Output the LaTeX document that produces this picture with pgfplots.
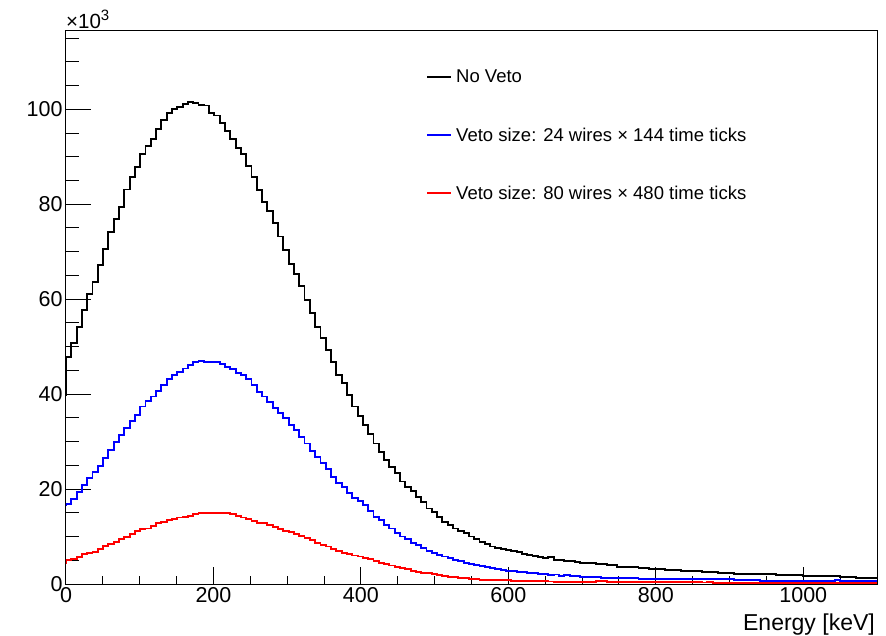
\documentclass[border=0pt]{standalone}
\usepackage{fontspec}
\setmainfont{Liberation Sans}
\usepackage{pgfplots}
\usepackage{pgfplotstable}
\pgfplotsset{compat=1.18}

% bin contents in units of 10^3, bin width ~7.19 keV; first row = edge of the bin below 0,
% last row repeats the last bin so the step reaches the right edge
\pgfplotstableread{
b u r
39.5 16.4 4.2
47.9 16.85 5.0
50.8 18.0 5.3
54.2 19.3 5.76
57.7 20.9 6.25
61.0 22.3 6.46
63.6 23.5 6.81
67.2 24.9 7.30
70.6 26.5 8.00
74.2 28.2 8.35
76.8 30.0 8.92
79.5 31.4 9.41
83.1 32.8 9.97
85.7 34.4 10.5
87.8 35.6 11.1
90.5 37.4 11.5
92.3 38.6 11.7
93.7 39.5 12.2
95.9 40.7 12.8
97.7 41.9 13.1
99.2 43.1 13.5
100.0 44.0 13.7
100.5 44.7 14.0
101.1 45.4 14.2
101.5 46.1 14.4
101.4 46.7 14.7
101.0 47.0 14.9
100.8 46.8 14.9
99.2 46.7 15.0
98.7 46.8 14.9
97.2 46.3 14.9
95.5 45.8 14.9
93.8 45.2 14.7
91.8 44.4 14.4
90.6 44.0 14.0
88.1 43.1 13.7
85.8 41.9 13.3
83.0 40.5 12.9
80.5 39.5 12.8
78.6 38.4 12.4
76.0 37.0 12.1
73.2 36.0 11.6
70.4 34.9 11.2
67.5 33.5 10.9
65.3 32.4 10.5
62.8 31.0 10.1
59.8 29.6 9.7
57.0 28.1 9.2
54.2 26.8 8.7
51.8 25.4 8.3
49.3 24.2 7.9
46.8 22.6 7.4
44.0 21.3 7.0
42.3 20.5 6.6
39.8 19.1 6.3
37.4 18.2 6.0
35.3 17.5 5.8
33.5 16.6 5.5
31.6 15.4 5.2
29.6 14.2 4.9
27.9 13.5 4.5
26.1 12.4 4.2
24.7 11.7 3.9
23.3 10.8 3.65
21.6 10.0 3.3
20.4 9.4 3.1
19.5 8.7 2.8
18.3 8.2 2.6
17.2 7.5 2.4
15.9 7.0 2.25
15.2 6.5 2.05
14.2 6.1 1.9
13.1 5.8 1.76
12.4 5.4 1.55
11.7 5.06 1.41
11.2 4.85 1.33
10.7 4.5 1.19
10.0 4.2 1.05
9.4 4.0 0.98
8.9 3.8 0.91
8.4 3.5 0.84
7.9 3.3 0.77
7.5 3.2 0.84
7.35 3.0 0.9
7.1 2.8 0.8
6.9 2.7 0.7
6.8 2.6 0.68
6.25 2.46 0.66
6.1 2.39 0.64
5.97 2.25 0.62
5.76 2.11 0.6
5.41 2.04 0.56
5.62 1.9 0.52
5.06 2.0 0.5
5.06 1.76 0.5
4.92 1.85 0.48
4.85 1.69 0.48
4.70 1.69 0.47
4.5 1.55 0.46
4.35 1.55 0.45
4.35 1.45 0.45
4.21 1.40 0.6
4.14 1.33 0.65
4.0 1.33 0.5
4.0 1.33 0.44
3.65 1.26 0.42
3.65 1.19 0.42
3.51 1.19 0.41
3.51 1.19 0.41
3.37 1.05 0.40
3.3 1.05 0.40
3.23 1.05 0.39
3.16 1.05 0.39
3.09 1.05 0.38
2.95 0.98 0.38
2.95 0.98 0.37
2.95 0.98 0.37
2.81 0.98 0.36
2.74 0.98 0.36
2.74 0.98 0.45
2.67 0.98 0.33
2.6 0.98 0.32
2.46 0.98 0.40
2.46 0.98 0.30
2.32 0.98 0.30
2.32 0.98 0.30
2.32 0.98 0.29
2.18 0.84 0.29
2.18 0.84 0.29
2.18 0.84 0.28
2.18 0.84 0.28
2.04 0.84 0.28
2.04 0.70 0.27
2.04 0.70 0.27
2.04 0.70 0.27
1.9 0.70 0.26
1.9 0.70 0.26
1.9 0.70 0.26
1.9 0.70 0.25
1.9 0.70 0.25
1.76 0.70 0.25
1.76 0.70 0.24
1.76 0.70 0.24
1.76 0.70 0.24
1.76 0.56 0.23
1.76 0.56 0.23
1.76 0.84 0.23
1.55 0.70 0.22
1.55 0.56 0.22
1.55 0.56 0.22
1.33 0.56 0.22
1.33 0.56 0.21
1.33 0.56 0.21
1.33 0.56 0.21
1.33 0.56 0.21
}\hist

\begin{document}
\begin{tikzpicture}
\path[use as bounding box] (-66pt,-51pt) rectangle (820pt,584pt);
\begin{axis}[
    at={(0pt,0pt)}, anchor=south west,
    scale only axis,
    width=811pt, height=553.5pt,
    xmin=0, xmax=1100,
    ymin=0, ymax=116.6,
    clip mode=individual,
    axis line style={line width=1pt, black},
    tick align=inside,
    xtick pos=bottom, ytick pos=left,
    xtick={0,200,...,1000},
    ytick={0,20,...,100},
    minor xtick={0,50,...,1100},
    minor ytick={0,5,...,115},
    tick style={line width=1pt, black},
    major tick length=25pt,
    minor tick length=13pt,
    xtick style={/pgfplots/major tick length=16.7pt, /pgfplots/minor tick length=8.3pt},
    scaled y ticks=false,
    /pgf/number format/1000 sep={},
    /pgf/number format/assume math mode=true,
    ticklabel style={font=\fontsize{21.5}{24}\selectfont},
    xlabel={Energy [keV]},
    xlabel style={at={(axis description cs:1,0)}, anchor=north east,
        yshift=-30pt, xshift=-2pt, inner sep=0pt,
        font=\fontsize{23}{26}\selectfont},
    legend cell align=left,
    legend image code/.code={\draw[#1, line width=2pt] (0pt,0pt) -- (24pt,0pt);},
    legend style={draw=none, fill=none, at={(0.4439,0.9286)}, anchor=north west,
        font=\fontsize{18.5}{22}\selectfont, inner sep=0pt,
        row sep=43.2pt, column sep=4pt, nodes={inner sep=0pt}},
]
\addplot[const plot, black, line width=1.9pt]
    table[x expr={max(0,(\coordindex-1)*7.19)}, y=b] {\hist};
\addlegendentry{No Veto}
\addplot[const plot, blue, line width=1.9pt]
    table[x expr={max(0,(\coordindex-1)*7.19)}, y=u] {\hist};
\addlegendentry{Veto size: 24 wires × 144 time ticks}
\addplot[const plot, red, line width=1.9pt]
    table[x expr={max(0,(\coordindex-1)*7.19)}, y=r] {\hist};
\addlegendentry{Veto size: 80 wires × 480 time ticks}
\node[anchor=base west, inner sep=0pt, yshift=2.3pt]
    at (axis description cs:0,1)
    {\fontsize{20.5}{22}\selectfont ×10\raisebox{8pt}{\fontsize{15}{15}\selectfont 3}};
\end{axis}
\end{tikzpicture}
\end{document}
